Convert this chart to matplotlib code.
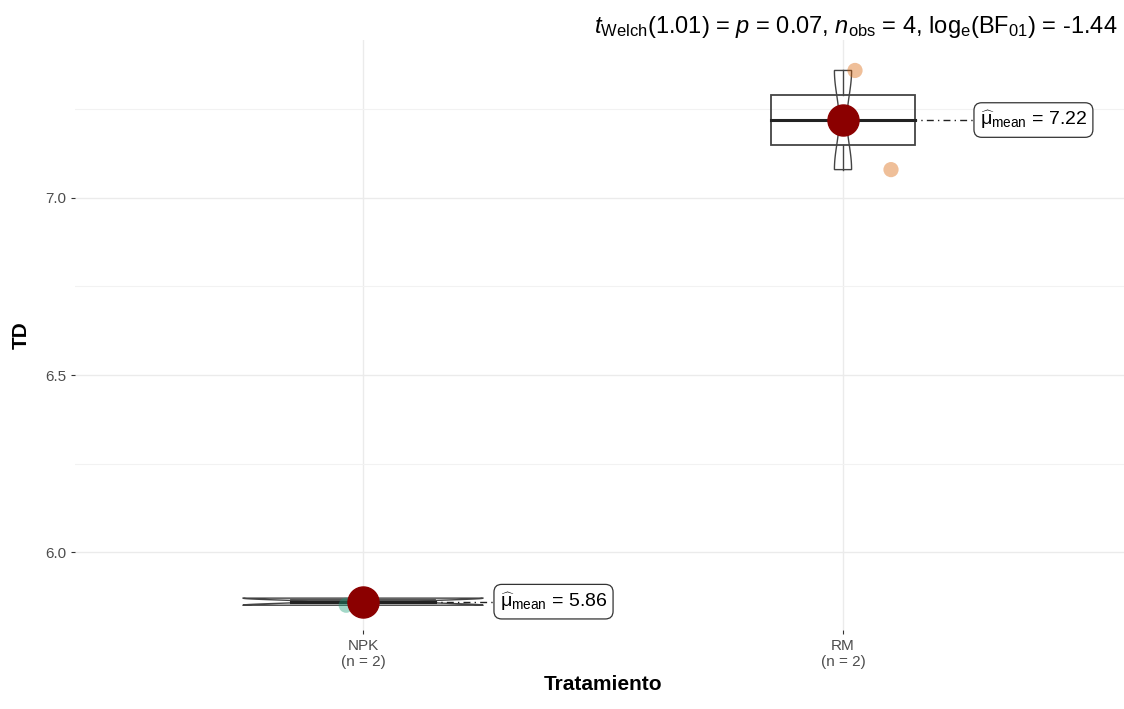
import numpy as np
import matplotlib.pyplot as plt
from matplotlib.patches import Rectangle, Polygon

plt.rcParams['font.family'] = ['Liberation Sans', 'DejaVu Sans']
plt.rcParams['mathtext.fontset'] = 'custom'
plt.rcParams['mathtext.rm'] = 'Liberation Sans'
plt.rcParams['mathtext.it'] = 'Liberation Sans:italic'

# data
groups = ['NPK', 'RM']
values = {'NPK': [5.85, 5.87], 'RM': [7.08, 7.36]}
jitter = {'NPK': [-0.035, 0.0], 'RM': [0.1, 0.025]}
point_colors = {'NPK': '#1B9E77', 'RM': '#D95F02'}
means = [5.86, 7.22]
subtitle = (r'$t_{\mathrm{Welch}}$(1.01) = $p$ = 0.07, $n_{\mathrm{obs}}$ = 4, '
            r'log$_{\mathrm{e}}$(BF$_{01}$) = -1.44')


def kde(v, grid):
    v = np.asarray(v)
    q1, q3 = np.percentile(v, [25, 75])
    bw = 0.9 * min(v.std(ddof=1), (q3 - q1) / 1.34) * len(v) ** -0.2
    z = (grid[:, None] - v[None, :]) / bw
    return np.exp(-0.5 * z ** 2).sum(axis=1) / (len(v) * bw * np.sqrt(2 * np.pi))


fig = plt.figure(figsize=(11.24, 7.09), dpi=100)
ax = fig.add_axes([75 / 1124, 79 / 709, 1056 / 1124, 590 / 709])

ax.set_xlim(0.4, 2.6)
ax.set_ylim(5.78, 7.446)

# violins (scale = area)
grids = {g: np.linspace(min(values[g]), max(values[g]), 200) for g in groups}
dens = {g: kde(values[g], grids[g]) for g in groups}
dmax = max(d.max() for d in dens.values())
for i, g in enumerate(groups):
    x = i + 1
    w = dens[g] / dmax * 0.25
    xs = np.concatenate([x - w, (x + w)[::-1]])
    ys = np.concatenate([grids[g], grids[g][::-1]])
    ax.add_patch(Polygon(np.column_stack([xs, ys]), closed=True, facecolor='white',
                         edgecolor='#444444', lw=1.0, zorder=2))

# boxplots
for i, g in enumerate(groups):
    x = i + 1
    q1, med, q3 = np.percentile(values[g], [25, 50, 75])
    ax.plot([x, x], [min(values[g]), q1], color='#444444', lw=1.0, zorder=3)
    ax.plot([x, x], [q3, max(values[g])], color='#444444', lw=1.0, zorder=3)
    ax.add_patch(Rectangle((x - 0.15, q1), 0.3, q3 - q1, facecolor='none',
                           edgecolor='#444444', lw=1.3, zorder=3))
    ax.plot([x - 0.15, x + 0.15], [med, med], color='#222222', lw=2.2, zorder=3)

# points
for i, g in enumerate(groups):
    xs = [i + 1 + j for j in jitter[g]]
    ax.scatter(xs, values[g], s=120, color=point_colors[g], alpha=0.4,
               edgecolor='none', zorder=4)

# means + labels
for i, m in enumerate(means):
    x = i + 1
    ax.plot([x, x + 0.285], [m, m], color='#222222', lw=1.0, ls=(0, (5, 3, 1, 3)), zorder=4)
    ax.scatter([x], [m], s=500, color='#8B0000', zorder=5)
    ax.text(x + 0.285, m, r'$\widehat{\mathrm{μ}}_{\mathrm{mean}}$' + f' = {m:.2f}',
            fontsize=14, ha='left', va='center', color='black', zorder=6,
            bbox=dict(boxstyle='round,pad=0.3,rounding_size=0.4', fc='white',
                      ec='#333333', lw=0.9))

# grid
ax.set_yticks([6.0, 6.5, 7.0])
ax.set_yticks([6.25, 6.75, 7.25], minor=True)
ax.set_xticks([1, 2])
ax.set_xticklabels([f'{g}\n(n = {len(values[g])})' for g in groups])
ax.grid(True, which='major', color='#EBEBEB', lw=1.0)
ax.grid(True, which='minor', axis='y', color='#F2F2F2', lw=0.8)
ax.set_axisbelow(True)
for s in ax.spines.values():
    s.set_visible(False)
ax.tick_params(axis='both', which='major', colors='#333333', labelcolor='#4D4D4D',
               labelsize=11, length=3)
ax.tick_params(axis='y', which='minor', length=0)

ax.set_xlabel('Tratamiento', fontsize=15, fontweight='bold', labelpad=4)
ax.set_ylabel('TD', fontsize=15, fontweight='bold', labelpad=10)

fig.text(1117 / 1124, 1 - 27 / 709, subtitle, fontsize=17, ha='right', va='center')

fig.savefig('out.png', dpi=100)
